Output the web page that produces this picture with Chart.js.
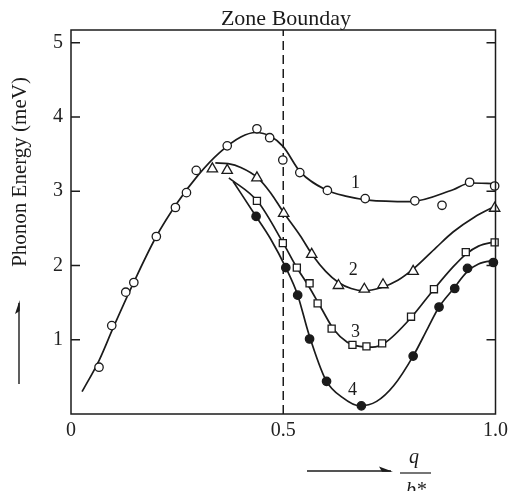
<!DOCTYPE html>
<html>
<head>
<meta charset="utf-8">
<script src="https://cdn.jsdelivr.net/npm/chart.js@4.4.0/dist/chart.umd.min.js"></script>
<style>
    body { margin: 0; background: #fff; }
    canvas { display: block; }
</style>
</head>
<body>
<canvas id="phonon" width="513" height="491"></canvas>
<script>
// measured points (q / b*, meV)
const circleQ = [0.066, 0.096, 0.129, 0.148, 0.201, 0.246, 0.272, 0.295, 0.368, 0.438, 0.468, 0.499, 0.539, 0.604, 0.693, 0.810, 0.874, 0.939, 0.998];
const circleE = [0.63, 1.19, 1.64, 1.77, 2.39, 2.78, 2.98, 3.28, 3.61, 3.84, 3.72, 3.42, 3.25, 3.01, 2.90, 2.87, 2.81, 3.12, 3.07];

const triQ = [0.333, 0.368, 0.438, 0.501, 0.567, 0.630, 0.691, 0.735, 0.806, 0.998];
const triE = [3.30, 3.28, 3.18, 2.70, 2.15, 1.73, 1.68, 1.74, 1.92, 2.77];

const sqQ = [0.438, 0.499, 0.532, 0.562, 0.581, 0.614, 0.663, 0.696, 0.733, 0.801, 0.855, 0.930, 0.998];
const sqE = [2.87, 2.30, 1.97, 1.76, 1.49, 1.15, 0.93, 0.91, 0.95, 1.31, 1.68, 2.18, 2.31];

const dotQ = [0.436, 0.506, 0.534, 0.562, 0.602, 0.684, 0.806, 0.867, 0.904, 0.934, 0.995];
const dotE = [2.66, 1.97, 1.60, 1.01, 0.44, 0.11, 0.78, 1.44, 1.69, 1.96, 2.04];

// hand drawn curves 1-4
const c1Q = [0.026, 0.066, 0.10, 0.15, 0.20, 0.25, 0.30, 0.35, 0.40, 0.435, 0.47, 0.50, 0.54, 0.60, 0.65, 0.70, 0.80, 0.90, 0.94, 1.0];
const c1E = [0.30, 0.72, 1.17, 1.80, 2.38, 2.84, 3.22, 3.52, 3.73, 3.79, 3.74, 3.60, 3.26, 3.02, 2.93, 2.88, 2.86, 3.02, 3.11, 3.10];

const c2Q = [0.34, 0.37, 0.40, 0.44, 0.47, 0.50, 0.54, 0.57, 0.60, 0.63, 0.66, 0.69, 0.73, 0.77, 0.81, 0.86, 0.90, 0.95, 1.0];
const c2E = [3.38, 3.37, 3.32, 3.18, 2.98, 2.72, 2.40, 2.13, 1.92, 1.77, 1.69, 1.66, 1.70, 1.80, 1.97, 2.24, 2.45, 2.65, 2.80];

const c3Q = [0.372, 0.44, 0.50, 0.53, 0.56, 0.59, 0.62, 0.65, 0.68, 0.71, 0.74, 0.80, 0.855, 0.90, 0.93, 0.96, 1.0];
const c3E = [3.18, 2.86, 2.30, 1.99, 1.72, 1.42, 1.13, 0.97, 0.91, 0.90, 0.96, 1.29, 1.68, 1.98, 2.15, 2.26, 2.32];

const c4Q = [0.382, 0.436, 0.47, 0.506, 0.534, 0.56, 0.60, 0.64, 0.68, 0.72, 0.76, 0.806, 0.84, 0.867, 0.90, 0.934, 0.96, 1.0];
const c4E = [3.13, 2.66, 2.36, 1.97, 1.60, 1.08, 0.46, 0.22, 0.11, 0.17, 0.38, 0.78, 1.15, 1.44, 1.68, 1.92, 2.02, 2.07];

const boundaryQ = [0.5, 0.5];
const boundaryE = [0, 5.17];

const labelText = ["1", "2", "3", "4"];
const labelQ = [0.670, 0.665, 0.670, 0.663];
const labelE = [3.11, 1.93, 1.10, 0.32];

const xTicks = [0, 0.5, 1.0];
const yTicks = [1, 2, 3, 4, 5];

const pts = (qs, es) => qs.map((q, i) => ({ x: q, y: es[i] }));
const ink = "#1b1b1b";

const curve = (qs, es) => ({
    type: 'line',
    data: pts(qs, es),
    borderColor: ink,
    borderWidth: 1.7,
    pointRadius: 0,
    cubicInterpolationMode: 'monotone',
    order: 2
});

const marks = (qs, es, style, r, fill) => ({
    type: 'scatter',
    data: pts(qs, es),
    pointStyle: style,
    pointRadius: r,
    pointHoverRadius: r,
    backgroundColor: fill,
    borderColor: ink,
    borderWidth: 1.3,
    clip: false,
    order: 0
});

const decor = {
    id: 'decor',
    afterDatasetsDraw(chart) {
        const { ctx, chartArea: a, scales } = chart;
        const y = scales.y, x = scales.x;
        ctx.save();
        ctx.strokeStyle = ink;
        ctx.fillStyle = ink;
        ctx.lineWidth = 1.5;
        ctx.strokeRect(a.left, a.top, a.right - a.left, a.bottom - a.top);
        // inward ticks on both sides
        yTicks.forEach((v) => {
            const py = y.getPixelForValue(v);
            ctx.beginPath();
            ctx.moveTo(a.left, py); ctx.lineTo(a.left + 9, py);
            ctx.moveTo(a.right, py); ctx.lineTo(a.right - 9, py);
            ctx.stroke();
        });
        // curve numbers
        ctx.font = '18px "Liberation Serif", serif';
        ctx.textAlign = 'center';
        ctx.textBaseline = 'middle';
        labelText.forEach((t, i) => {
            ctx.fillText(t, x.getPixelForValue(labelQ[i]), y.getPixelForValue(labelE[i]));
        });
        // title
        ctx.font = '22px "Liberation Serif", serif';
        ctx.textBaseline = 'alphabetic';
        ctx.fillText("Zone Bounday", 286, 25);
        // y title
        ctx.save();
        ctx.translate(26, 172);
        ctx.rotate(-Math.PI / 2);
        ctx.font = '21px "Liberation Serif", serif';
        ctx.fillText("Phonon Energy (meV)", 0, 0);
        ctx.restore();
        // y arrow
        ctx.lineWidth = 1.4;
        ctx.beginPath();
        ctx.moveTo(19, 384); ctx.lineTo(19, 303);
        ctx.stroke();
        ctx.beginPath();
        ctx.moveTo(19.7, 300); ctx.lineTo(15, 314); ctx.lineTo(19.7, 311);
        ctx.closePath(); ctx.fill();
        // x arrow
        ctx.beginPath();
        ctx.moveTo(307, 471); ctx.lineTo(391, 471);
        ctx.stroke();
        ctx.beginPath();
        ctx.moveTo(393, 471.7); ctx.lineTo(379, 466.5); ctx.lineTo(382, 471.7);
        ctx.closePath(); ctx.fill();
        // q / b*
        ctx.lineWidth = 1.2;
        ctx.beginPath();
        ctx.moveTo(400, 473); ctx.lineTo(431, 473);
        ctx.stroke();
        ctx.font = 'italic 20px "Liberation Serif", serif';
        ctx.fillText("q", 414, 463);
        ctx.fillText("b*", 416, 496);
        ctx.restore();
    }
};

new Chart(document.getElementById("phonon"), {
    data: {
        datasets: [
            marks(circleQ, circleE, 'circle', 4.2, '#fff'),
            marks(triQ, triE, 'triangle', 6, '#fff'),
            marks(sqQ, sqE, 'rect', 5, '#fff'),
            marks(dotQ, dotE, 'circle', 4.2, ink),
            curve(c1Q, c1E),
            curve(c2Q, c2E),
            curve(c3Q, c3E),
            curve(c4Q, c4E),
            {
                type: 'line',
                data: pts(boundaryQ, boundaryE),
                borderColor: ink,
                borderWidth: 1.5,
                borderDash: [9, 5],
                pointRadius: 0,
                order: 3
            }
        ]
    },
    plugins: [decor],
    options: {
        responsive: false,
        animation: false,
        events: [],
        layout: { padding: { top: 30, right: 15, left: 0, bottom: 0 } },
        plugins: { legend: { display: false }, tooltip: { enabled: false } },
        scales: {
            x: {
                type: 'linear',
                min: 0,
                max: 1,
                grid: { display: false, drawTicks: false },
                border: { display: false },
                afterBuildTicks: (s) => { s.ticks = xTicks.map((v) => ({ value: v })); },
                afterFit: (s) => { s.height = 77; },
                ticks: {
                    padding: 5,
                    color: '#222',
                    maxRotation: 0,
                    font: { family: '"Liberation Serif", serif', size: 20 },
                    callback: (v) => v === 0 ? '0' : v.toFixed(1)
                }
            },
            y: {
                type: 'linear',
                min: 0,
                max: 5.17,
                grid: { display: false, drawTicks: false },
                border: { display: false },
                afterBuildTicks: (s) => { s.ticks = yTicks.map((v) => ({ value: v })); },
                afterFit: (s) => { s.width = 71; },
                ticks: {
                    padding: 8,
                    color: '#222',
                    font: { family: '"Liberation Serif", serif', size: 20 }
                }
            }
        }
    }
});
</script>
</body>
</html>
